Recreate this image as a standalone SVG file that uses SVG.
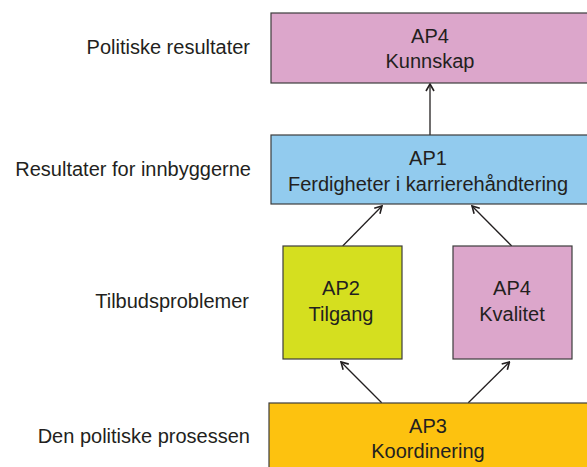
<svg xmlns="http://www.w3.org/2000/svg" width="587" height="467" viewBox="0 0 587 467">
<style>
text{font-family:"Liberation Sans",Arial,sans-serif;font-size:20px;fill:#231f20}
.c{text-anchor:middle}
.l{text-anchor:end}
.box{stroke:#3c3c3c;stroke-width:1.2}
.pink{fill:#dca6cb}
.blue{fill:#92cbee}
.green{fill:#d5df1f}
.orange{fill:#fdc20f}
.arr{stroke:#231f20;stroke-width:1.3;fill:none;marker-end:url(#ah)}
</style>
<defs>
<marker id="ah" viewBox="0 0 10 10" refX="9" refY="5" markerWidth="10" markerHeight="10" markerUnits="userSpaceOnUse" orient="auto">
<path d="M2,1 L9,5 L2,9" fill="none" stroke="#231f20" stroke-width="1.6"/>
</marker>
</defs>
<rect width="587" height="467" fill="#fff"/>
<g id="labels">
<text class="l" x="250" y="54">Politiske resultater</text>
<text class="l" x="251" y="176">Resultater for innbyggerne</text>
<text class="l" x="249" y="308">Tilbudsproblemer</text>
<text class="l" x="250" y="443">Den politiske prosessen</text>
</g>
<g id="connectors">
<line class="arr" x1="430" y1="135" x2="430" y2="84"/>
<line class="arr" x1="342.7" y1="246" x2="382" y2="206"/>
<line class="arr" x1="511.7" y1="246" x2="472" y2="206"/>
<line class="arr" x1="381.7" y1="402.7" x2="341" y2="362"/>
<line class="arr" x1="468.3" y1="402.7" x2="509.5" y2="362"/>
</g>
<g id="ap4-kunnskap">
<rect class="box pink" x="271" y="13" width="320" height="70"/>
<text class="c" x="430" y="43">AP4</text>
<text class="c" x="430" y="68">Kunnskap</text>
</g>
<g id="ap1">
<rect class="box blue" x="271" y="135" width="320" height="69"/>
<text class="c" x="428" y="165">AP1</text>
<text class="c" x="428" y="191">Ferdigheter i karrierehåndtering</text>
</g>
<g id="ap2">
<rect class="box green" x="283" y="246" width="119" height="113"/>
<text class="c" x="341" y="295">AP2</text>
<text class="c" x="341" y="321">Tilgang</text>
</g>
<g id="ap4-kvalitet">
<rect class="box pink" x="453" y="246" width="119" height="113"/>
<text class="c" x="512" y="295">AP4</text>
<text class="c" x="512" y="321">Kvalitet</text>
</g>
<g id="ap3">
<rect class="box orange" x="269" y="403" width="322" height="70"/>
<text class="c" x="428" y="433">AP3</text>
<text class="c" x="428" y="458">Koordinering</text>
</g>
</svg>
